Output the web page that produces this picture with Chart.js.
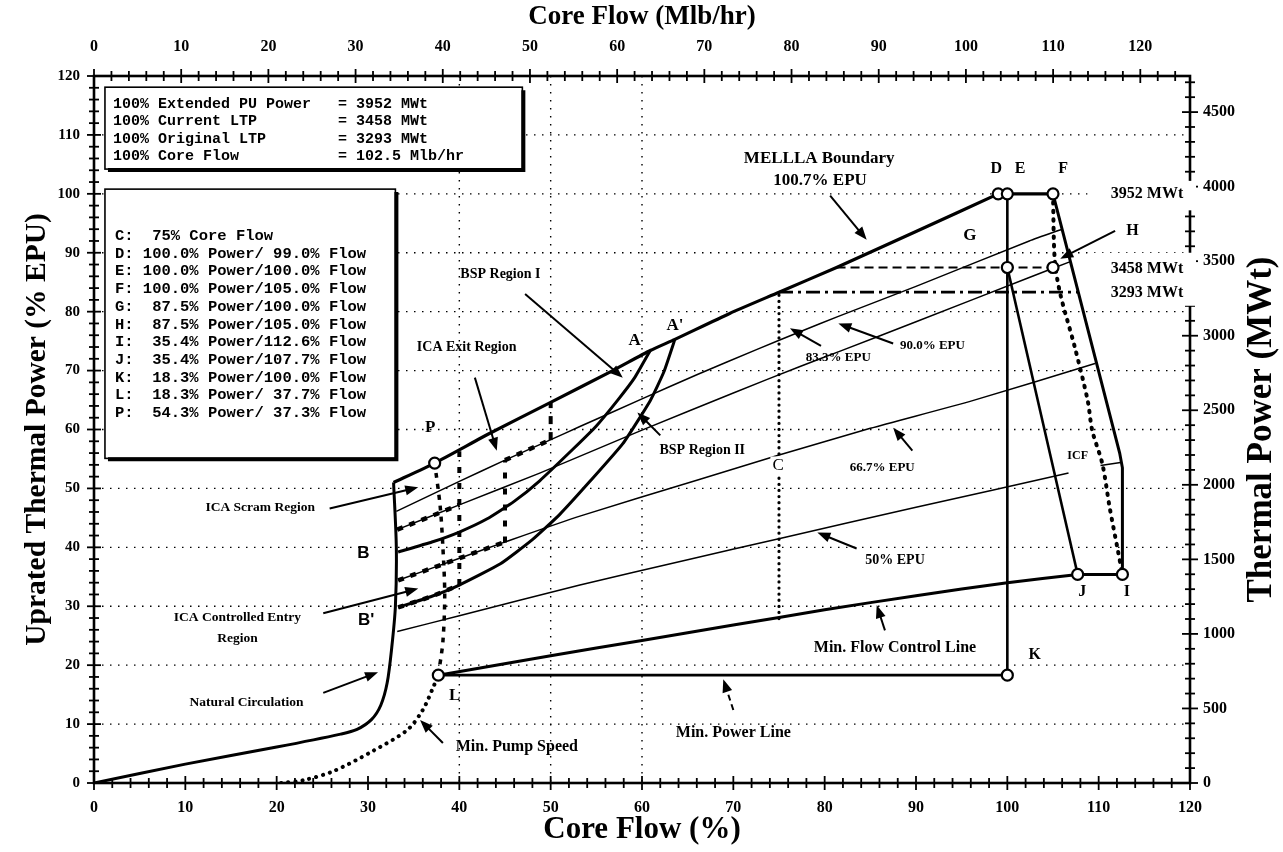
<!DOCTYPE html>
<html>
<head>
<meta charset="utf-8">
<script src="https://cdn.jsdelivr.net/npm/chart.js@4.4.0/dist/chart.umd.min.js"></script>
<style>
  html, body { margin: 0; padding: 0; background: #fff; }
</style>
</head>
<body>
<canvas id="powerFlowMap" width="1283" height="852"></canvas>
<script>
// every point is [core flow (%), uprated thermal power (% EPU)]
const naturalCirculation = [[0,0],[10,3.2],[20,6.1],[27,8.3],[28.8,9.1],[30.4,10.8],[31.4,13.2],[32.1,17],[32.6,23],[33,30],[33.1,40],[32.8,51]];
const melllaBoundary = [[32.8,51],[37.3,54.3],[43.4,59.4],[50,64.6],[56.8,70],[60.9,73.4],[63.6,75.3],[69.6,79.7],[75,83.3],[81.3,87.5],[90,93.6],[99,100]];
const topBoundary = [[99,100],[105,100]];
const rightBoundary = [[105,100],[112.3,56],[112.6,53.5],[112.6,35.4],[107.7,35.4]];
const gjLine = [[100,87.5],[107.7,35.4]];
const ekLine = [[100,100],[100,18.3]];
const minPowerLine = [[37.7,18.3],[100,18.3]];
const minFlowLine = [[37.7,18.3],[50,21.6],[60,24.2],[70,26.8],[80,29.4],[90,31.8],[100,34],[107.7,35.4]];
const minPumpSpeed = [[20.5,0],[23,0.5],[26.2,2],[30.5,5.4],[34.3,9],[36,12.4],[37.1,16.1],[37.7,18.3]];
const lpLine = [[37.7,18.3],[38.2,24],[38.4,32],[38.2,40],[37.9,47],[37.3,54.3]];
const icfLine = [[105,100],[105.2,88.6],[105.8,83],[107.4,73.9],[108.8,64.9],[109.3,59.8],[110.4,54.2],[111.2,46.8],[112.1,39.5],[112.6,35.4]];
const epu90 = [[33.1,46.1],[40,51.2],[45,54.8],[49.9,58.2],[53.2,60.5],[60,65.2],[66,69.3],[72.6,73.6],[77.3,76.6],[81.5,79.2],[90,84.3],[102.4,92],[106,94]];
const epu83 = [[33.2,43],[40,47.2],[48.8,52.6],[60,59.9],[70,66.2],[77.3,70.7],[81.7,73.3],[90,78.3],[102.4,85.8],[106.9,88.5]];
const epu67 = [[33.3,34.4],[40.1,38.2],[44.8,40.8],[53.2,45.3],[66,51.4],[75.1,55.7],[85,60.2],[96.2,64.9],[109.6,71.2]];
const epu50 = [[33.2,25.7],[40,28.4],[53.2,33.6],[65,37.9],[75.1,41.5],[90,46.8],[106.7,52.6]];
const bspCurveA = [[33.3,39.2],[37,40.9],[40,42.6],[43,44.8],[46,47.8],[48.8,51.3],[52.4,56.6],[55,60.6],[57.3,64.9],[59.2,68.8],[60.9,73.4]];
const bspCurveA2 = [[33.3,29.8],[37,31.7],[40,33.6],[44.5,37.2],[48,41.3],[51,45.6],[54.3,51.2],[57.9,57.6],[60.9,64.9],[62.4,69.8],[63.6,75.3]];
const icaUpper = [[33.2,43],[40,47.2]];
const icaExit = [[45,54.8],[49.9,58.2]];
const icaLower = [[33.3,34.4],[40.1,38.2],[44.8,40.8]];
const icaEntry = [[33.3,29.8],[37,31.7],[40,33.6]];
const ica40 = [[40,33.6],[40,56.3]];
const ica45 = [[45,40.8],[45,54.8]];
const ica50 = [[50,58.2],[50,64.6]];
const cLine = [[75,27.9],[75,83.3]];
const ltp3458 = [[81.3,87.5],[105,87.5]];
const ltp3293 = [[75,83.3],[107.7,83.3]];
const stateNames = ['D','E','F','G','H','I','J','K','L','P'];
const stateFlow = [99,100,105,100,105,112.6,107.7,100,37.7,37.3];
const statePower = [100,100,100,87.5,87.5,35.4,35.4,18.3,18.3,54.3];
const gridFlow = [40,50,60];
const gridPower = [10,20,30,40,50,60,70,80,90,100,110];
const flowMlbTicks = [0,10,20,30,40,50,60,70,80,90,100,110,120];
const mwtTicks = [0,500,1000,1500,2000,2500,3000,3500,4000,4500];

const basisNames = ['100% Extended PU Power','100% Current LTP','100% Original LTP','100% Core Flow'];
const basisValues = ['= 3952 MWt','= 3458 MWt','= 3293 MWt','= 102.5 Mlb/hr'];
const stateTable = [
  'C:  75% Core Flow',
  'D: 100.0% Power/ 99.0% Flow',
  'E: 100.0% Power/100.0% Flow',
  'F: 100.0% Power/105.0% Flow',
  'G:  87.5% Power/100.0% Flow',
  'H:  87.5% Power/105.0% Flow',
  'I:  35.4% Power/112.6% Flow',
  'J:  35.4% Power/107.7% Flow',
  'K:  18.3% Power/100.0% Flow',
  'L:  18.3% Power/ 37.7% Flow',
  'P:  54.3% Power/ 37.3% Flow'
];

const SERIF = '"Liberation Serif", "Times New Roman", serif';
const MONO = '"Liberation Mono", "Courier New", monospace';
const sb = s => `bold ${s}px ${SERIF}`;

// labels: [text, flow, power, font, white backing]
const notes = [
  ['MELLLA Boundary', 79.4, 105.9, sb(17)],
  ['100.7% EPU', 79.5, 102.2, sb(17)],
  ['BSP Region I', 44.5, 86.4, sb(14)],
  ['ICA Exit Region', 40.8, 73.9, sb(14)],
  ['A', 59.2, 75.1, sb(17)],
  ["A'", 63.6, 77.6, sb(17)],
  ['BSP Region II', 66.6, 56.4, sb(14)],
  ['ICA Scram Region', 18.2, 46.8, sb(13.5)],
  ['B', 29.5, 39, `bold 17px "Liberation Sans", Arial, sans-serif`],
  ["B'", 29.8, 27.6, `bold 17px "Liberation Sans", Arial, sans-serif`],
  ['ICA Controlled Entry', 15.7, 28.1, sb(13.5)],
  ['Region', 15.7, 24.5, sb(13.5)],
  ['Natural Circulation', 16.7, 13.6, sb(13.5)],
  ['P', 36.8, 60.3, sb(17)],
  ['L', 39.5, 14.9, sb(17)],
  ['Min. Pump Speed', 46.3, 6.1, sb(16)],
  ['Min. Power Line', 70, 8.5, sb(16)],
  ['C', 74.9, 53.9, `17px ${SERIF}`, true],
  ['Min. Flow Control Line', 87.7, 23, sb(16)],
  ['K', 103, 21.7, sb(16)],
  ['50% EPU', 87.7, 37.8, sb(14)],
  ['66.7% EPU', 86.3, 53.6, sb(13)],
  ['83.3% EPU', 81.5, 72.2, sb(13)],
  ['90.0% EPU', 91.8, 74.2, sb(13)],
  ['ICF', 107.7, 55.6, sb(12)],
  ['D', 98.8, 104.2, sb(16)],
  ['E', 101.4, 104.2, sb(16)],
  ['F', 106.1, 104.2, sb(16)],
  ['G', 95.9, 92.9, sb(17)],
  ['H', 113.7, 93.7, sb(16)],
  ['J', 108.2, 32.4, sb(16)],
  ['I', 113.1, 32.4, sb(16)]
];
// [tail flow, tail power, head flow, head power, dashed]
const arrows = [
  [80.6, 99.7, 84.6, 92.2],
  [47.2, 83, 57.9, 68.8],
  [41.7, 68.8, 44.1, 56.4],
  [62, 59, 59.5, 62.9],
  [25.8, 46.6, 35.5, 50.2],
  [25.1, 28.8, 35.5, 33],
  [25.1, 15.3, 31.1, 18.8],
  [38.2, 6.8, 35.7, 10.7],
  [70, 12.4, 68.9, 17.6, true],
  [86.6, 25.9, 85.7, 30.2],
  [83.5, 39.8, 79.2, 42.5],
  [89.6, 56.4, 87.5, 60.3],
  [79.6, 74.2, 76.2, 77.2],
  [87.5, 74.6, 81.5, 78],
  [111.8, 93.7, 105.8, 89.0]
];
const mwtNotes = [['3952 MWt', 115.3, 100], ['3458 MWt', 115.3, 87.3], ['3293 MWt', 115.3, 83.2]];

const pts = a => a.map(([x, y]) => ({x, y}));
const trace = (a, width, dash, extra) => Object.assign({
  type: 'line', data: pts(a), borderColor: '#000', borderWidth: width,
  borderDash: dash || [], pointRadius: 0, fill: false, tension: 0,
  xAxisID: 'x', yAxisID: 'y'
}, extra || {});

const decor = {
  id: 'decor',
  beforeDatasetsDraw(chart) {
    const {ctx, chartArea: a, scales} = chart;
    const X = v => scales.x.getPixelForValue(v);
    const Y = v => scales.y.getPixelForValue(v);
    ctx.save();
    ctx.strokeStyle = '#000';
    ctx.lineWidth = 1.4;
    ctx.setLineDash([1.5, 6.5]);
    gridPower.forEach(v => {
      ctx.beginPath(); ctx.moveTo(a.left, Y(v)); ctx.lineTo(a.right, Y(v)); ctx.stroke();
    });
    gridFlow.forEach(v => {
      ctx.beginPath(); ctx.moveTo(X(v), a.top); ctx.lineTo(X(v), a.bottom); ctx.stroke();
    });
    ctx.setLineDash([]);

    let box = (x0, y0, x1, y1) => {
      const l = X(x0), r = X(x1), t = Y(y0), b = Y(y1);
      ctx.fillStyle = '#fff';
      ctx.fillRect(l, t, r - l, b - t);
      ctx.lineWidth = 1.6;
      ctx.strokeRect(l, t, r - l, b - t);
      ctx.lineWidth = 4;
      ctx.beginPath();
      ctx.moveTo(r + 1, t + 3); ctx.lineTo(r + 1, b + 1); ctx.lineTo(l + 3, b + 1);
      ctx.stroke();
      return {l, t};
    };
    let b1 = box(1.2, 118.1, 46.9, 104.2);
    ctx.font = `bold 15px ${MONO}`;
    ctx.textBaseline = 'middle';
    ctx.fillStyle = '#000';
    basisNames.forEach((s, i) => {
      ctx.fillText(s, b1.l + 8, b1.t + 17 + i * 17.3);
      ctx.fillText(basisValues[i], b1.l + 233, b1.t + 17 + i * 17.3);
    });
    let b2 = box(1.2, 100.8, 33.0, 55.1);
    ctx.fillStyle = '#000';
    ctx.font = `bold 15.5px ${MONO}`;
    stateTable.forEach((s, i) => ctx.fillText(s, b2.l + 10, b2.t + 47 + i * 17.7));
    ctx.restore();
  },
  afterDatasetsDraw(chart) {
    const {ctx, chartArea: a, scales} = chart;
    const X = v => scales.x.getPixelForValue(v);
    const Y = v => scales.y.getPixelForValue(v);
    ctx.save();
    ctx.strokeStyle = '#000';
    ctx.fillStyle = '#000';

    // arrows
    arrows.forEach(([x0, y0, x1, y1, dashed]) => {
      const px0 = X(x0), py0 = Y(y0), px1 = X(x1), py1 = Y(y1);
      const ang = Math.atan2(py1 - py0, px1 - px0);
      const hl = 13, hw = 5;
      ctx.lineWidth = 2;
      ctx.setLineDash(dashed ? [6, 4] : []);
      ctx.beginPath();
      ctx.moveTo(px0, py0);
      ctx.lineTo(px1 - Math.cos(ang) * hl * 0.8, py1 - Math.sin(ang) * hl * 0.8);
      ctx.stroke();
      ctx.setLineDash([]);
      ctx.beginPath();
      ctx.moveTo(px1, py1);
      ctx.lineTo(px1 - Math.cos(ang) * hl - Math.sin(ang) * hw, py1 - Math.sin(ang) * hl + Math.cos(ang) * hw);
      ctx.lineTo(px1 - Math.cos(ang) * hl + Math.sin(ang) * hw, py1 - Math.sin(ang) * hl - Math.cos(ang) * hw);
      ctx.closePath();
      ctx.fill();
    });
    // ICF leader
    ctx.lineWidth = 1.5;
    ctx.beginPath(); ctx.moveTo(X(110.2), Y(53.9)); ctx.lineTo(X(112.4), Y(54.4)); ctx.stroke();

    ctx.textAlign = 'center';
    ctx.textBaseline = 'middle';
    notes.forEach(([t, x, y, f, backed]) => {
      ctx.font = f;
      if (backed) {
        const w = ctx.measureText(t).width + 4;
        ctx.fillStyle = '#fff';
        ctx.fillRect(X(x) - w / 2, Y(y) - 9, w, 18);
        ctx.fillStyle = '#000';
      }
      ctx.fillText(t, X(x), Y(y));
    });

    // frame with crossing ticks
    ctx.lineWidth = 2.6;
    ctx.strokeRect(a.left, a.top, a.right - a.left, a.bottom - a.top);
    ctx.lineWidth = 1.8;
    const tick = (x0, y0, x1, y1) => { ctx.beginPath(); ctx.moveTo(x0, y0); ctx.lineTo(x1, y1); ctx.stroke(); };
    for (let v = 0; v <= 120; v += 2) {
      const n = v % 10 === 0 ? 7 : 5;
      tick(X(v), a.bottom - n, X(v), a.bottom + n);
      tick(a.left - n, Y(v), a.left + n, Y(v));
    }
    for (let v = 0; v <= 124; v += 2) {
      const n = v % 10 === 0 ? 7 : 5;
      const px = scales.x2.getPixelForValue(v);
      tick(px, a.top - n, px, a.top + n);
    }
    for (let v = 0; v <= 4700; v += 100) {
      const n = v % 500 === 0 ? 8 : 5;
      const py = scales.y2.getPixelForValue(v);
      tick(a.right - n, py, a.right + n, py);
    }

    // MWt labels sit on white patches over the right axis
    ctx.fillStyle = '#fff';
    ctx.fillRect(X(108.8), Y(102.2), a.right + 6 - X(108.8), Y(97.2) - Y(102.2));
    ctx.fillRect(X(108.8), Y(90), a.right + 6 - X(108.8), Y(81) - Y(90));
    ctx.fillStyle = '#000';
    ctx.font = sb(16);
    mwtNotes.forEach(([t, x, y]) => ctx.fillText(t, X(x), Y(y)));

    // right axis title reads bottom to top
    ctx.save();
    ctx.translate(1262, (a.top + a.bottom) / 2);
    ctx.rotate(-Math.PI / 2);
    ctx.font = sb(35);
    ctx.fillText('Thermal Power (MWt)', 0, 0);
    ctx.restore();
    ctx.restore();
  }
};

const tickFont = s => ({family: SERIF, size: s, weight: 'bold'});
const plain = v => String(v);

new Chart(document.getElementById('powerFlowMap'), {
  type: 'line',
  data: {
    datasets: [
      {
        type: 'scatter',
        data: stateFlow.map((x, i) => ({x, y: statePower[i]})),
        pointRadius: 5.5, pointBackgroundColor: '#fff', pointBorderColor: '#000',
        pointBorderWidth: 2.2, showLine: false, xAxisID: 'x', yAxisID: 'y'
      },
      trace(naturalCirculation, 3, null, {tension: 0.3}),
      trace(melllaBoundary, 3.2, null, {tension: 0.2}),
      trace(topBoundary, 3.2),
      trace(rightBoundary, 3),
      trace(gjLine, 2.6),
      trace(ekLine, 2.6),
      trace(minPowerLine, 2.8),
      trace(minFlowLine, 3, null, {tension: 0.2}),
      trace(minPumpSpeed, 4, [0.1, 7], {tension: 0.3, borderCapStyle: 'round'}),
      trace(lpLine, 3.5, [5, 6], {tension: 0.3}),
      trace(icfLine, 4, [1.5, 7], {tension: 0.3, borderCapStyle: 'round'}),
      trace(epu90, 1.5, null, {tension: 0.2}),
      trace(epu83, 1.5, null, {tension: 0.2}),
      trace(epu67, 1.5, null, {tension: 0.2}),
      trace(epu50, 1.5, null, {tension: 0.2}),
      trace(bspCurveA, 3, null, {tension: 0.15}),
      trace(bspCurveA2, 3, null, {tension: 0.15}),
      trace(icaUpper, 4.5, [6, 7]),
      trace(icaExit, 4.5, [6, 7]),
      trace(icaLower, 4.5, [6, 7], {tension: 0.2}),
      trace(icaEntry, 4.5, [6, 7], {tension: 0.2}),
      trace(ica40, 4, [6, 10]),
      trace(ica45, 4, [6, 10]),
      trace(ica50, 4, [8, 8]),
      trace(cLine, 3.2, [0.1, 6], {borderCapStyle: 'round'}),
      trace(ltp3458, 2.2, [9, 5]),
      trace(ltp3293, 2.8, [14, 5, 3, 5])
    ]
  },
  options: {
    responsive: false,
    devicePixelRatio: 1,
    animation: false,
    layout: {padding: 0},
    plugins: {legend: {display: false}, tooltip: {enabled: false}},
    scales: {
      x: {
        type: 'linear', position: 'bottom', min: 0, max: 120,
        grid: {display: false, drawTicks: false}, border: {display: false},
        ticks: {stepSize: 10, autoSkip: false, maxRotation: 0, padding: 15, color: '#000', font: tickFont(16), callback: plain},
        title: {display: true, text: 'Core Flow (%)', color: '#000', font: tickFont(31), padding: {top: 0, bottom: 3}},
        afterFit: s => { s.height = 69; }
      },
      x2: {
        type: 'linear', position: 'top', min: 0, max: 125.7,
        grid: {display: false, drawTicks: false}, border: {display: false},
        ticks: {autoSkip: false, maxRotation: 0, padding: 20, color: '#000', font: tickFont(16), callback: plain},
        afterBuildTicks: s => { s.ticks = flowMlbTicks.map(v => ({value: v})); },
        title: {display: true, text: 'Core Flow (Mlb/hr)', color: '#000', font: tickFont(27), padding: {top: 1, bottom: 0}},
        afterFit: s => { s.height = 76; }
      },
      y: {
        type: 'linear', position: 'left', min: 0, max: 120,
        grid: {display: false, drawTicks: false}, border: {display: false},
        ticks: {stepSize: 10, autoSkip: false, padding: 14, color: '#000', font: tickFont(15), callback: plain},
        title: {display: true, text: 'Uprated Thermal Power (% EPU)', color: '#000', font: tickFont(29.5), padding: {top: 20, bottom: 0}},
        afterFit: s => { s.width = 94; }
      },
      y2: {
        type: 'linear', position: 'right', min: 0, max: 4742,
        grid: {display: false, drawTicks: false}, border: {display: false},
        ticks: {autoSkip: false, padding: 13, color: '#000', font: tickFont(16), callback: plain},
        afterBuildTicks: s => { s.ticks = mwtTicks.map(v => ({value: v})); },
        afterFit: s => { s.width = 93; }
      }
    }
  },
  plugins: [decor]
});
</script>
</body>
</html>
